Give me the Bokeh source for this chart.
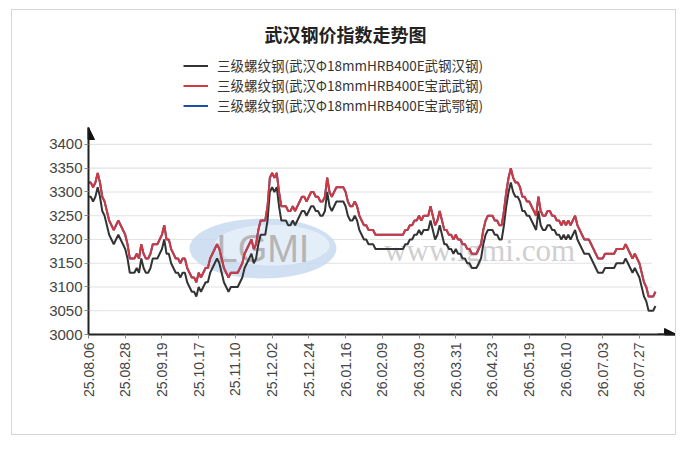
from bokeh.plotting import figure
from bokeh.models import (FixedTicker, Legend, LegendItem, Label, Arrow, NormalHead)
from bokeh.core.properties import value
from bokeh.embed import file_html
from bokeh.resources import INLINE
import math

tick_labels = ["25.08.06", "25.08.28", "25.09.19", "25.10.17", "25.11.10", "25.12.02",
               "25.12.24", "26.01.16", "26.02.09", "26.03.09", "26.03.31", "26.04.23",
               "26.05.19", "26.06.10", "26.07.03", "26.07.27"]
tick_step = 16

wugang_hangang = [
    3290, 3290, 3280, 3290, 3310, 3290, 3260, 3250, 3230, 3210, 3200, 3190, 3200, 3210, 3200, 3190,
    3180, 3160, 3130, 3130, 3130, 3140, 3130, 3160, 3140, 3130, 3130, 3140, 3160, 3160, 3160, 3170,
    3180, 3200, 3170, 3170, 3150, 3140, 3130, 3130, 3120, 3130, 3130, 3110, 3100, 3090, 3090, 3080,
    3100, 3090, 3100, 3110, 3110, 3130, 3140, 3150, 3160, 3150, 3130, 3110, 3100, 3090, 3100, 3100,
    3100, 3100, 3110, 3120, 3140, 3150, 3160, 3170, 3150, 3160, 3190, 3210, 3210, 3210, 3240, 3300,
    3310, 3300, 3310, 3270, 3240, 3240, 3240, 3230, 3230, 3240, 3230, 3240, 3250, 3260, 3260, 3250,
    3260, 3270, 3270, 3260, 3260, 3250, 3250, 3260, 3300, 3270, 3260, 3270, 3280, 3280, 3280, 3280,
    3270, 3250, 3240, 3240, 3250, 3240, 3220, 3210, 3200, 3200, 3190, 3190, 3190, 3180, 3180, 3180,
    3180, 3180, 3180, 3180, 3180, 3180, 3180, 3180, 3180, 3180, 3190, 3190, 3200, 3200, 3210, 3210,
    3220, 3210, 3220, 3220, 3220, 3240, 3220, 3200, 3210, 3230, 3210, 3190, 3190, 3180, 3180, 3170,
    3180, 3170, 3170, 3160, 3160, 3150, 3150, 3140, 3140, 3140, 3150, 3160, 3190, 3210, 3220, 3220,
    3220, 3210, 3210, 3200, 3200, 3230, 3270, 3300, 3320, 3300, 3290, 3290, 3280, 3260, 3260, 3250,
    3250, 3240, 3230, 3220, 3260, 3230, 3220, 3220, 3230, 3230, 3220, 3220, 3210, 3210, 3200, 3210,
    3200, 3210, 3200, 3210, 3220, 3200, 3190, 3180, 3170, 3170, 3170, 3160, 3150, 3140, 3130, 3130,
    3130, 3140, 3140, 3140, 3140, 3140, 3150, 3150, 3150, 3150, 3160, 3150, 3140, 3130, 3140, 3130,
    3120, 3100, 3080, 3070, 3050, 3050, 3050, 3060,
]

baowu_wugang = [
    3320, 3320, 3310, 3320, 3340, 3320, 3290, 3280, 3260, 3240, 3230, 3220, 3230, 3240, 3230, 3220,
    3210, 3190, 3160, 3160, 3160, 3170, 3160, 3190, 3170, 3160, 3160, 3170, 3190, 3190, 3190, 3200,
    3210, 3230, 3200, 3200, 3180, 3170, 3160, 3160, 3150, 3160, 3160, 3140, 3130, 3120, 3120, 3110,
    3130, 3120, 3130, 3140, 3140, 3160, 3170, 3180, 3190, 3180, 3160, 3140, 3130, 3120, 3130, 3130,
    3130, 3130, 3140, 3150, 3170, 3180, 3190, 3200, 3180, 3190, 3220, 3240, 3240, 3240, 3270, 3330,
    3340, 3330, 3340, 3300, 3270, 3270, 3270, 3260, 3260, 3270, 3260, 3270, 3280, 3290, 3290, 3280,
    3290, 3300, 3300, 3290, 3290, 3280, 3280, 3290, 3330, 3300, 3290, 3300, 3310, 3310, 3310, 3310,
    3300, 3280, 3270, 3270, 3280, 3270, 3250, 3240, 3230, 3230, 3220, 3220, 3220, 3210, 3210, 3210,
    3210, 3210, 3210, 3210, 3210, 3210, 3210, 3210, 3210, 3210, 3220, 3220, 3230, 3230, 3240, 3240,
    3250, 3240, 3250, 3250, 3250, 3270, 3250, 3230, 3240, 3260, 3240, 3220, 3220, 3210, 3210, 3200,
    3210, 3200, 3200, 3190, 3190, 3180, 3180, 3170, 3170, 3170, 3180, 3190, 3220, 3240, 3250, 3250,
    3250, 3240, 3240, 3230, 3230, 3260, 3300, 3330, 3350, 3330, 3320, 3320, 3310, 3290, 3290, 3280,
    3280, 3270, 3260, 3250, 3290, 3260, 3250, 3250, 3260, 3260, 3250, 3250, 3240, 3240, 3230, 3240,
    3230, 3240, 3230, 3240, 3250, 3230, 3220, 3210, 3200, 3200, 3200, 3190, 3180, 3170, 3160, 3160,
    3160, 3170, 3170, 3170, 3170, 3170, 3180, 3180, 3180, 3180, 3190, 3180, 3170, 3160, 3170, 3160,
    3150, 3130, 3110, 3100, 3080, 3080, 3080, 3090,
]

# the third series (宝武鄂钢) coincides with 宝武武钢 and lies hidden beneath the red line
baowu_egang = baowu_wugang

series_names = ["三级螺纹钢(武汉Φ18mmHRB400E武钢汉钢)",
                "三级螺纹钢(武汉Φ18mmHRB400E宝武武钢)",
                "三级螺纹钢(武汉Φ18mmHRB400E宝武鄂钢)"]
y_ticks = [3000, 3050, 3100, 3150, 3200, 3250, 3300, 3350, 3400]

FONT = "Liberation Sans"
CJK = "Noto Sans CJK SC"

# canvas origin at page (12, 10); frame: x 88..677, y 10..334 (page)
X_END = 256.6
Y_END = 3682.0
X_AXIS_END = 256.2
Y_AXIS_END = 3435.8

p = figure(width=665, height=426, output_backend="svg", toolbar_location=None,
           x_range=(0, X_END), y_range=(3000, Y_END),
           min_border_left=76, min_border_right=0, min_border_top=0, min_border_bottom=102,
           background_fill_color="white", border_fill_color="white")
p.styles = {"border": "1px solid #d6d6d6", "margin-left": "11px", "margin-top": "9px"}
p.outline_line_color = None
p.grid.visible = False

# gridlines
n = len(wugang_hangang)
p.segment(x0=[0] * len(y_ticks), x1=[n - 2.5] * len(y_ticks), y0=y_ticks, y1=y_ticks,
          line_color="#e2e2e2", line_width=1.2)

# watermark
p.ellipse(x=[76], y=[3181], width=[64], height=[126], fill_color="#c4d8ef", fill_alpha=0.8,
          line_color=None)
p.ellipse(x=[80], y=[3188], width=[50], height=[86], fill_color="#e8f0f9", fill_alpha=0.85,
          line_color=None)
p.text(x=[76], y=[3181], text=["LGMI"], text_font=value("Liberation Sans"),
       text_font_size="38px", text_color="#b5b5b5", text_align="center",
       text_baseline="middle")
p.text(x=[170.4], y=[3177], text=["www.lgmi.com"], text_font=value("Liberation Serif"),
       text_font_size="31px", text_color="#cfcfcf", text_align="center",
       text_baseline="middle")

xs = list(range(n))
r_blue = p.line(x=xs, y=baowu_egang, line_color="#1f4ea6", line_width=2)
r_black = p.line(x=xs, y=wugang_hangang, line_color="#333333", line_width=2)
r_red = p.line(x=xs, y=baowu_wugang, line_color="#d0393f", line_width=2)

legend = Legend(items=[LegendItem(label=series_names[0], renderers=[r_black]),
                       LegendItem(label=series_names[1], renderers=[r_red]),
                       LegendItem(label=series_names[2], renderers=[r_blue])],
                location=(95, 219), orientation="vertical",
                label_text_font=CJK, label_text_font_size="13.5px", label_text_color="#333333",
                glyph_width=25, glyph_height=17, label_height=17, label_standoff=9,
                spacing=0, padding=0, margin=0, border_line_color=None,
                background_fill_alpha=0)
p.add_layout(legend, "center")

title = Label(x=112, y=3633, text="武汉钢价指数走势图", text_font=CJK,
              text_font_size="18px", text_font_style="bold", text_color="#222222",
              text_align="center", text_baseline="middle")
p.add_layout(title)

# axes
tick_pos = [i * tick_step for i in range(len(tick_labels))]
p.xaxis.ticker = FixedTicker(ticks=tick_pos)
p.xaxis.major_label_overrides = {t: l for t, l in zip(tick_pos, tick_labels)}
p.xaxis.major_label_orientation = math.pi / 2
p.xaxis.major_label_text_font = FONT
p.xaxis.major_label_text_font_size = "14px"
p.xaxis.major_label_text_color = "#444444"
p.xaxis.major_label_standoff = 4
p.xaxis.bounds = (0, X_AXIS_END)

p.yaxis.ticker = FixedTicker(ticks=y_ticks)
p.yaxis.major_label_text_font = FONT
p.yaxis.major_label_text_font_size = "15px"
p.yaxis.major_label_text_color = "#444444"
p.yaxis.major_label_standoff = 2
p.yaxis.bounds = (3000, Y_AXIS_END)

for ax in (p.xaxis, p.yaxis):
    ax.axis_line_color = "#222222"
    ax.axis_line_width = 2
    ax.major_tick_in = 0
    ax.major_tick_out = 4
    ax.major_tick_line_color = "#888888"
    ax.minor_tick_line_color = None

p.add_layout(Arrow(end=NormalHead(size=12, fill_color="#111111", line_color="#111111"),
                   x_start=248, y_start=3000, x_end=X_AXIS_END, y_end=3000,
                   line_color="#222222", line_width=2))
p.add_layout(Arrow(end=NormalHead(size=12, fill_color="#111111", line_color="#111111"),
                   x_start=0, y_start=3410, x_end=0, y_end=Y_AXIS_END,
                   line_color="#222222", line_width=2))

open("out.html", "w").write(file_html(p, INLINE))
